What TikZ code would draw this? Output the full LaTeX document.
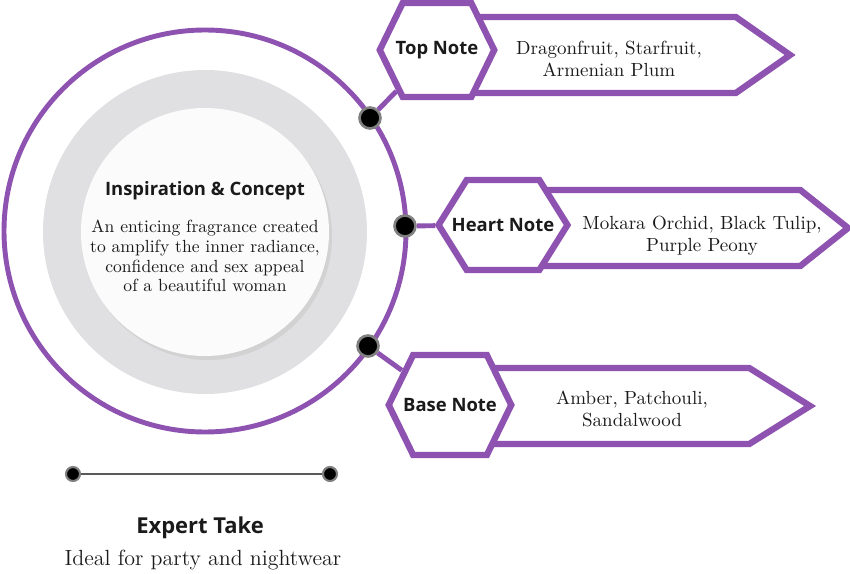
\documentclass[tikz,border=0pt]{standalone}
\usepackage{fontspec}
\newfontfamily\headfont{Open Sans}
\usetikzlibrary{shapes.symbols}

\definecolor{grape}{RGB}{142,82,176}
\definecolor{ringgray}{RGB}{224,224,226}
\definecolor{ink}{RGB}{26,26,26}

\tikzset{
  hexa/.style={signal, signal to=west and east, signal pointer angle=128,
    draw=grape, line width=3.6pt, fill=white, inner ysep=0pt,
    minimum width=0pt, minimum height=1.88cm, text=ink,
    font=\headfont\bfseries\fontsize{10.5}{12}\selectfont},
  banner/.style={signal, signal to=east, signal pointer angle=70,
    draw=grape, line width=3.6pt, fill=white, anchor=west,
    minimum height=1.52cm},
  notes/.style={align=center, text=ink, font=\fontsize{10.8}{12.8}\selectfont},
  pin/.style={circle, fill=black, draw=gray, line width=1.5pt,
    inner sep=0pt, minimum size=0.42cm},
  smallpin/.style={pin, line width=1.2pt, minimum size=0.28cm},
  link/.style={draw=grape, line width=2.8pt},
}

\begin{document}
\begin{tikzpicture}[x=0.02cm, y=-0.02cm]
  \useasboundingbox (0,0) rectangle (850,574);

  % the concept wheel
  \fill[ringgray] (205,232) circle (162);
  \fill[ringgray!85!gray] (208,236) circle (124);
  \fill[white!97!gray] (205,232) circle (124);
  \draw[grape, line width=2.8pt] (205,231) circle (201);

  \node[text=ink, font=\headfont\bfseries\fontsize{10.5}{12}\selectfont]
    (idea) at (205,191) {Inspiration \& Concept};
  \node[notes, font=\fontsize{10}{11.3}\selectfont] (ideatext) at (205,256)
    {An enticing fragrance created\\to amplify the inner radiance,\\
     confidence and sex appeal\\of a beautiful woman};

  % pins on the wheel
  \node[pin] (p1) at (370,118) {};
  \node[pin] (p2) at (405,226) {};
  \node[pin] (p3) at (368,346) {};

  % banners
  \node[banner, minimum width=7cm] (topB) at (437,55) {};
  \node[banner, minimum width=6.84cm, signal pointer angle=77] (heartB) at (503,228) {};
  \node[banner, minimum width=7.14cm, signal pointer angle=64] (baseB) at (450,406) {};

  \node[notes] (topT) at (609,59) {Dragonfruit, Starfruit,\\Armenian Plum};
  \node[notes] (heartT) at (702,236) {Mokara Orchid, Black Tulip,\\Purple Peony};
  \node[notes] (baseT) at (632,409) {Amber, Patchouli,\\Sandalwood};

  % note hexagons
  \node[hexa, inner xsep=-0.14cm] (top) at (437,50) {Top Note};
  \node[hexa, inner xsep=-0.3cm, minimum height=1.8cm, signal pointer angle=116] (heart) at (503,225) {Heart Note};
  \node[hexa, inner xsep=-0.2cm, minimum height=2cm] (base) at (450,405) {Base Note};

  \draw[link] (p1) -- (top);
  \draw[link] (p2) -- (heart);
  \draw[link] (p3) -- (base);

  % expert take
  \node[smallpin] (e1) at (73,474) {};
  \node[smallpin] (e2) at (330,474) {};
  \draw[black!65, line width=1.1pt] (e1) -- (e2);
  \node[text=ink, font=\headfont\bfseries\fontsize{12.5}{14}\selectfont]
    (expert) at (200,528) {Expert Take};
  \node[text=ink, font=\fontsize{12.5}{14}\selectfont] (ideal) at (203,560)
    {Ideal for party and nightwear};
\end{tikzpicture}
\end{document}
